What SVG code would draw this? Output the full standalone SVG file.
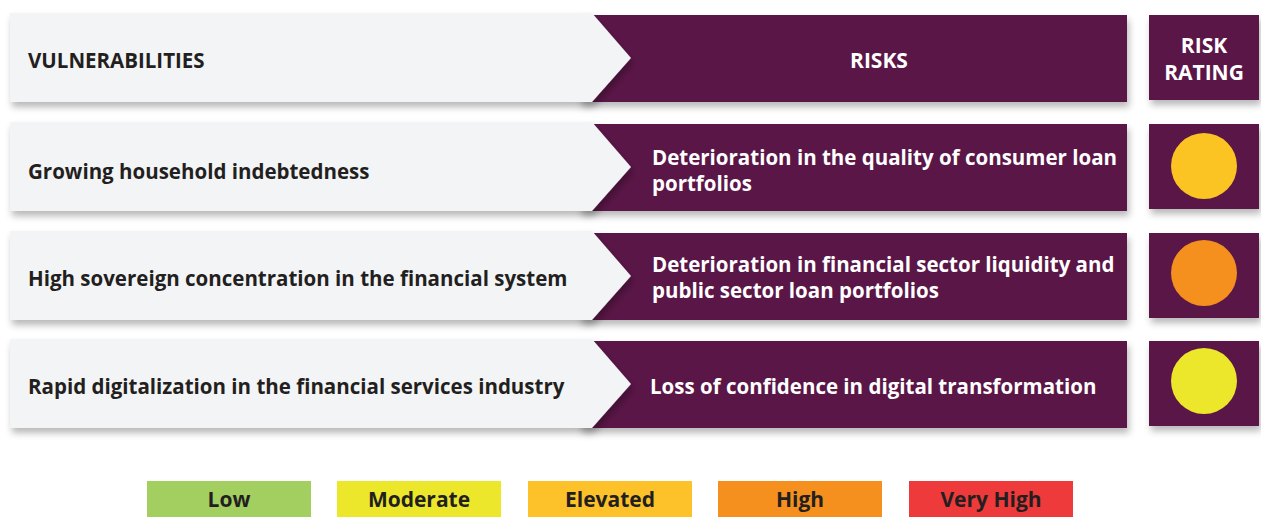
<svg xmlns="http://www.w3.org/2000/svg" width="1261" height="517" viewBox="0 0 1261 517">
<style>
text{font-family:"Open Sans","Liberation Sans",sans-serif;font-weight:bold;}
.dk{fill:#231f20;font-size:20.5px;}
.wt{fill:#ffffff;font-size:20.5px;}
.hd{fill:#ffffff;font-size:21px;text-anchor:middle;}
.lg{fill:#231f20;font-size:21px;text-anchor:middle;}
.vul{fill:#f3f4f6;filter:url(#sh);}
.risk{fill:#5a1646;filter:url(#sh);}
</style>
<defs>
<filter id="sh" x="-5%" y="-20%" width="115%" height="150%">
<feDropShadow dx="2" dy="5" stdDeviation="3.5" flood-color="#000" flood-opacity="0.28"/>
</filter>
</defs>
<g id="header">
<rect class="risk" x="580" y="15" width="547" height="87"/>
<polygon class="vul" points="10,13 592,13 631,58 592,102 10,102"/>
<rect class="risk" x="1149" y="15" width="110" height="85"/>
<text class="dk" x="28" y="68">VULNERABILITIES</text>
<text class="hd" x="879" y="68">RISKS</text>
<text class="hd" x="1204" y="53">RISK</text>
<text class="hd" x="1204" y="80">RATING</text>
</g>
<g id="row1">
<rect class="risk" x="580" y="124" width="547" height="87"/>
<polygon class="vul" points="10,122 592,122 631,167 592,211 10,211"/>
<rect class="risk" x="1149" y="124" width="110" height="85"/>
<circle cx="1204" cy="166" r="33" fill="#fbc423"/>
<text class="dk" x="28" y="179">Growing household indebtedness</text>
<text class="wt" x="652" y="165">Deterioration in the quality of consumer loan</text>
<text class="wt" x="652" y="191">portfolios</text>
</g>
<g id="row2">
<rect class="risk" x="580" y="233" width="547" height="87"/>
<polygon class="vul" points="10,231 592,231 631,276 592,320 10,320"/>
<rect class="risk" x="1149" y="233" width="110" height="85"/>
<circle cx="1204" cy="273" r="33" fill="#f5901e"/>
<text class="dk" x="28" y="286">High sovereign concentration in the financial system</text>
<text class="wt" x="652" y="272">Deterioration in financial sector liquidity and</text>
<text class="wt" x="652" y="298">public sector loan portfolios</text>
</g>
<g id="row3">
<rect class="risk" x="580" y="341" width="547" height="87"/>
<polygon class="vul" points="10,339 592,339 631,384 592,428 10,428"/>
<rect class="risk" x="1149" y="341" width="110" height="85"/>
<circle cx="1204" cy="381" r="33" fill="#ece72a"/>
<text class="dk" x="28" y="394">Rapid digitalization in the financial services industry</text>
<text class="wt" x="650" y="394">Loss of confidence in digital transformation</text>
</g>
<g id="legend">
<rect x="147" y="481" width="164" height="36" fill="#a2cf60"/>
<text class="lg" x="229" y="507">Low</text>
<rect x="337" y="481" width="164" height="36" fill="#ece72a"/>
<text class="lg" x="419" y="507">Moderate</text>
<rect x="528" y="481" width="164" height="36" fill="#fdc12a"/>
<text class="lg" x="610" y="507">Elevated</text>
<rect x="718" y="481" width="164" height="36" fill="#f5901e"/>
<text class="lg" x="800" y="507">High</text>
<rect x="909" y="481" width="164" height="36" fill="#ee3a3a"/>
<text class="lg" x="991" y="507">Very High</text>
</g>
<g id="connectors"></g>
</svg>
